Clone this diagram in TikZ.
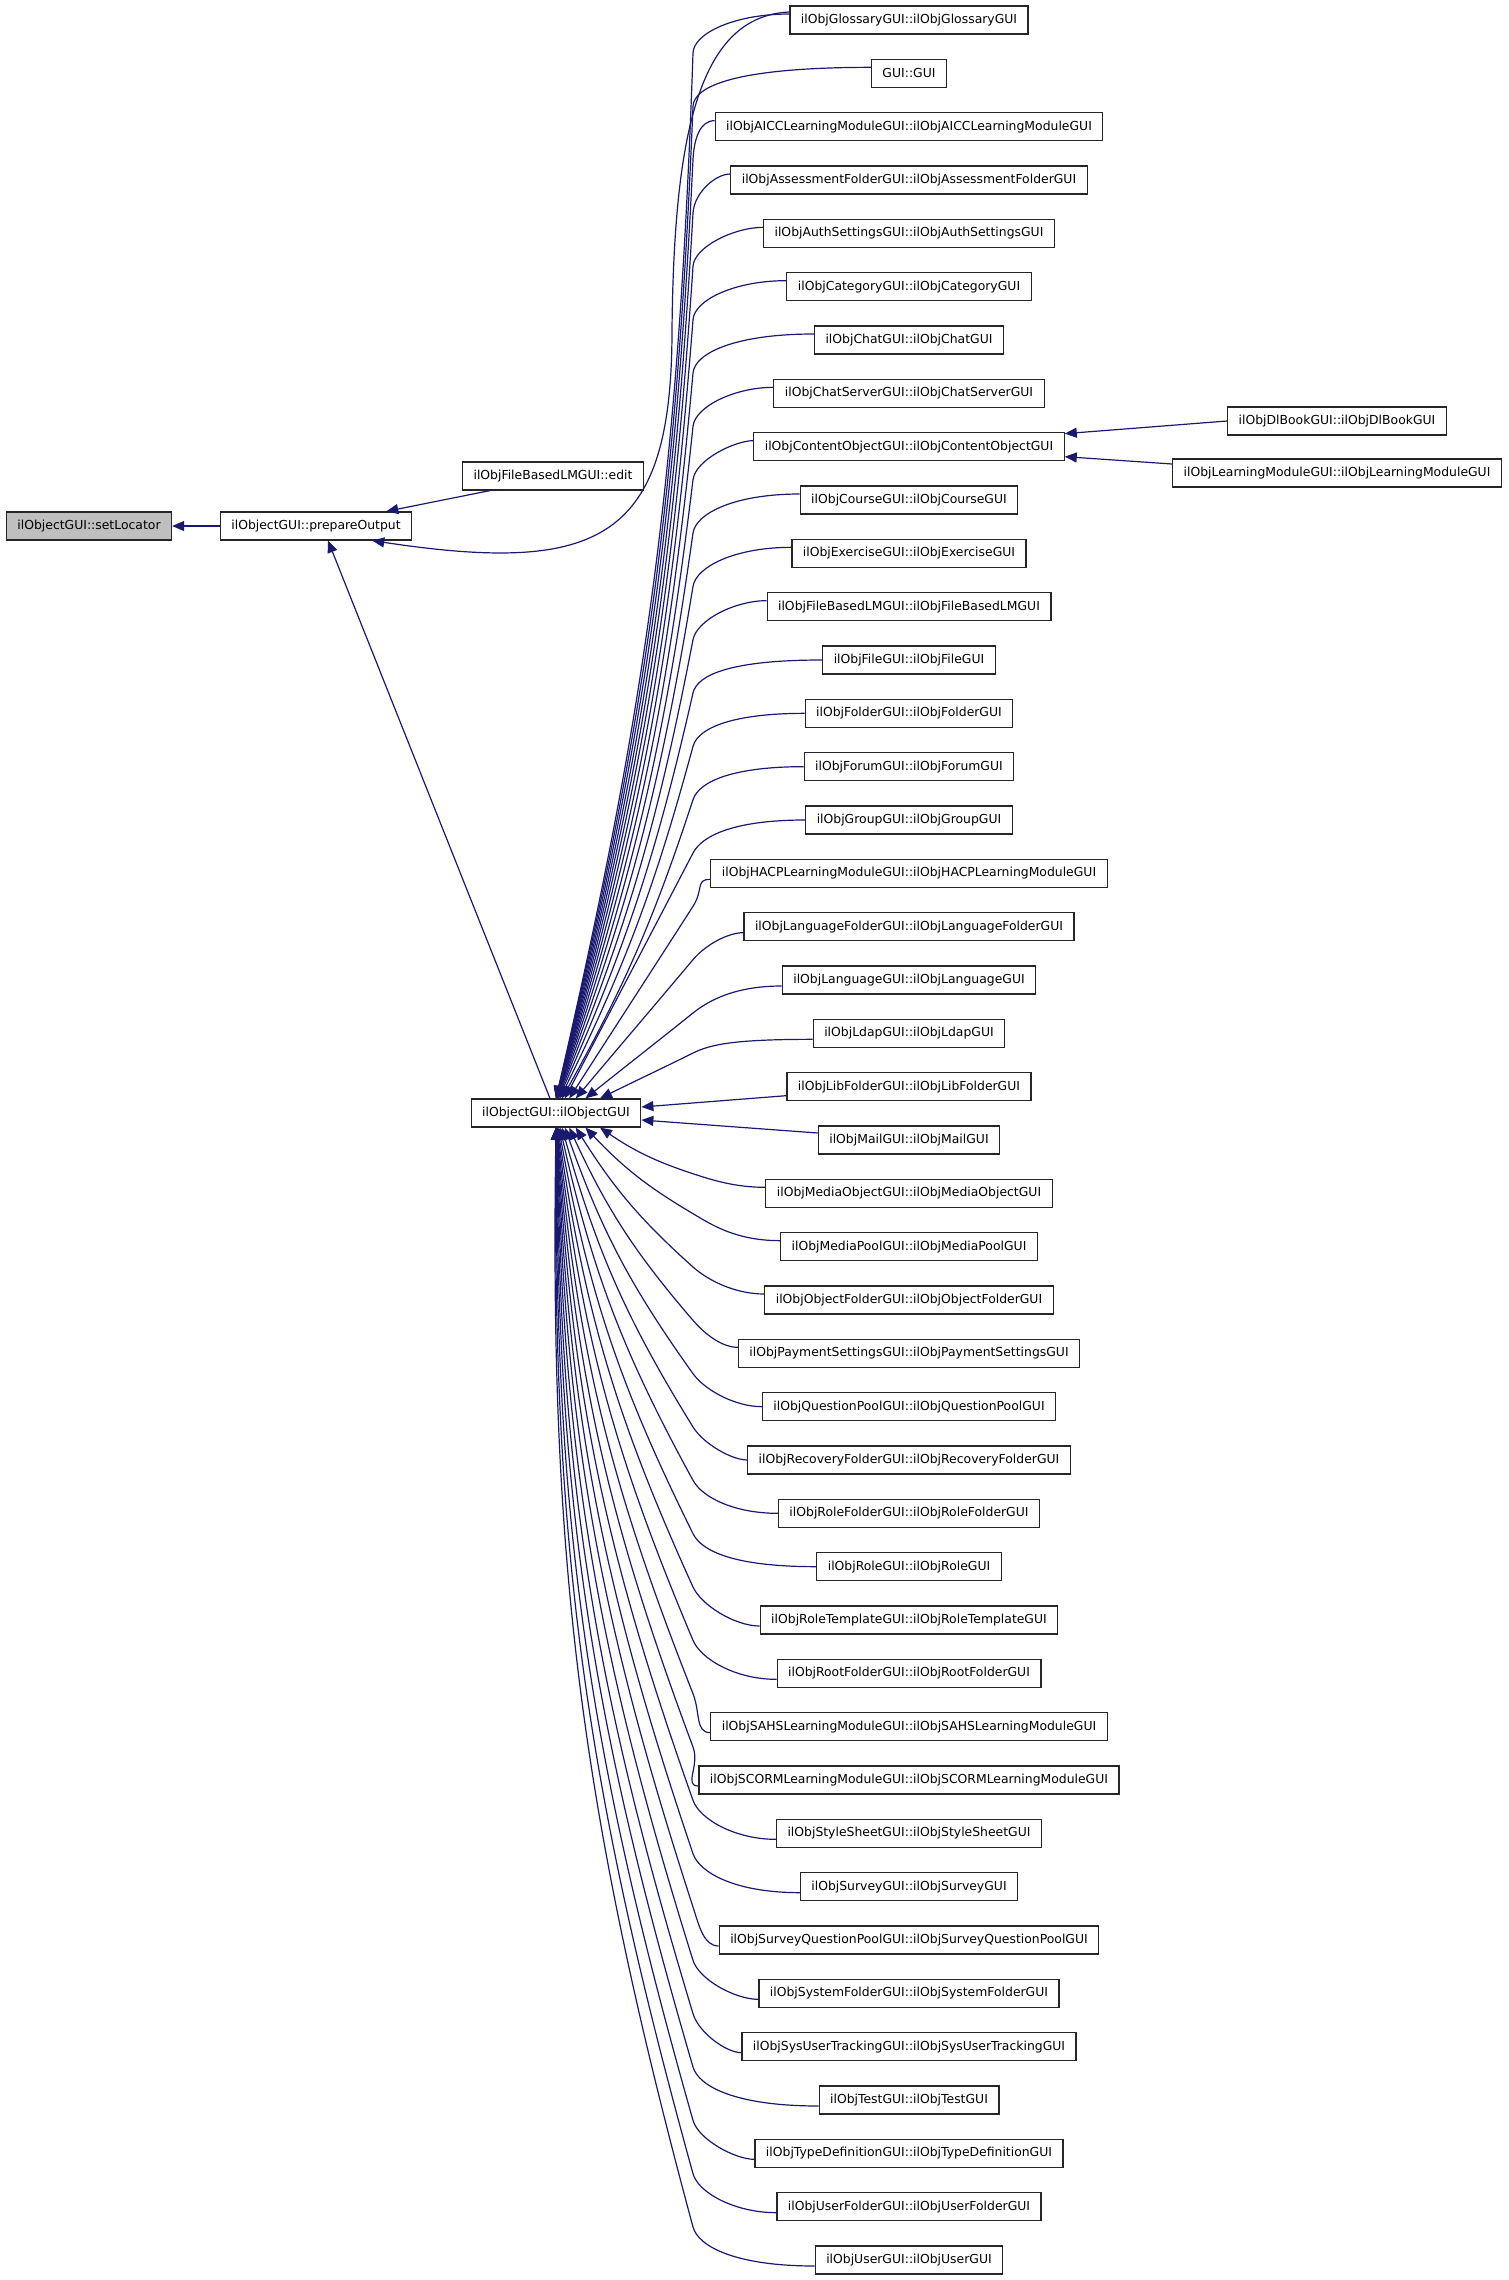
\documentclass[tikz,border=0pt]{standalone}
\usepackage{fontspec}
\setmainfont{DejaVu Sans}
\usetikzlibrary{arrows.meta,calc}
\definecolor{edgeblue}{RGB}{25,25,112}
\begin{document}
\begin{tikzpicture}[x=0.5pt,y=-0.5pt,
  fn/.style={draw=black!85, line width=0.6pt, fill=white, font=\fontsize{6.2pt}{7pt}\selectfont,
    inner xsep=5.5pt, inner ysep=0pt, minimum height=14pt},
  call/.style={draw=edgeblue, line width=0.6pt, -{Triangle[length=6pt,width=5pt]}}]
  \useasboundingbox (0,0) rectangle (1509,2280);
  % left part of the call graph
  \node[fn, fill=black!25] (setlocator) at (89,526) {ilObjectGUI::setLocator};
  \node[fn] (prepare) at (316,526) {ilObjectGUI::prepareOutput};
  \node[fn] (edit) at (553,476) {ilObjFileBasedLMGUI::edit};
  \node[fn] (ilobj) at (556,1113) {ilObjectGUI::ilObjectGUI};
  \node[fn] (dlbook) at (1337,421) {ilObjDlBookGUI::ilObjDlBookGUI};
  \node[fn] (lmodule) at (1337,473) {ilObjLearningModuleGUI::ilObjLearningModuleGUI};
  % right column
  \foreach \nm/\lbl [count=\i from 0] in {glossary/ilObjGlossaryGUI::ilObjGlossaryGUI, gui/GUI::GUI,
      aicc/ilObjAICCLearningModuleGUI::ilObjAICCLearningModuleGUI,
      assessment/ilObjAssessmentFolderGUI::ilObjAssessmentFolderGUI,
      authsettings/ilObjAuthSettingsGUI::ilObjAuthSettingsGUI, category/ilObjCategoryGUI::ilObjCategoryGUI,
      chat/ilObjChatGUI::ilObjChatGUI, chatserver/ilObjChatServerGUI::ilObjChatServerGUI,
      contentobject/ilObjContentObjectGUI::ilObjContentObjectGUI, course/ilObjCourseGUI::ilObjCourseGUI,
      exercise/ilObjExerciseGUI::ilObjExerciseGUI, filebasedlm/ilObjFileBasedLMGUI::ilObjFileBasedLMGUI,
      file/ilObjFileGUI::ilObjFileGUI, folder/ilObjFolderGUI::ilObjFolderGUI,
      forum/ilObjForumGUI::ilObjForumGUI, group/ilObjGroupGUI::ilObjGroupGUI,
      hacp/ilObjHACPLearningModuleGUI::ilObjHACPLearningModuleGUI,
      languagefolder/ilObjLanguageFolderGUI::ilObjLanguageFolderGUI,
      language/ilObjLanguageGUI::ilObjLanguageGUI, ldap/ilObjLdapGUI::ilObjLdapGUI,
      libfolder/ilObjLibFolderGUI::ilObjLibFolderGUI, mail/ilObjMailGUI::ilObjMailGUI,
      mediaobject/ilObjMediaObjectGUI::ilObjMediaObjectGUI, mediapool/ilObjMediaPoolGUI::ilObjMediaPoolGUI,
      objectfolder/ilObjObjectFolderGUI::ilObjObjectFolderGUI,
      paymentsettings/ilObjPaymentSettingsGUI::ilObjPaymentSettingsGUI,
      questionpool/ilObjQuestionPoolGUI::ilObjQuestionPoolGUI,
      recoveryfolder/ilObjRecoveryFolderGUI::ilObjRecoveryFolderGUI,
      rolefolder/ilObjRoleFolderGUI::ilObjRoleFolderGUI, role/ilObjRoleGUI::ilObjRoleGUI,
      roletemplate/ilObjRoleTemplateGUI::ilObjRoleTemplateGUI,
      rootfolder/ilObjRootFolderGUI::ilObjRootFolderGUI,
      sahs/ilObjSAHSLearningModuleGUI::ilObjSAHSLearningModuleGUI,
      scorm/ilObjSCORMLearningModuleGUI::ilObjSCORMLearningModuleGUI,
      stylesheet/ilObjStyleSheetGUI::ilObjStyleSheetGUI, survey/ilObjSurveyGUI::ilObjSurveyGUI,
      surveyqp/ilObjSurveyQuestionPoolGUI::ilObjSurveyQuestionPoolGUI,
      systemfolder/ilObjSystemFolderGUI::ilObjSystemFolderGUI,
      sysusertracking/ilObjSysUserTrackingGUI::ilObjSysUserTrackingGUI,
      test/ilObjTestGUI::ilObjTestGUI, typedef/ilObjTypeDefinitionGUI::ilObjTypeDefinitionGUI,
      userfolder/ilObjUserFolderGUI::ilObjUserFolderGUI, user/ilObjUserGUI::ilObjUserGUI}
    \node[fn] (\nm) at (909,{20+53.333*\i}) {\lbl};

  % edges into ilObjectGUI: a short bend, then a long sweep to its top or bottom side
  \foreach \nm [count=\i from 0] in {glossary,gui,aicc,assessment,authsettings,category,chat,
      chatserver,contentobject,course,exercise,filebasedlm,file,folder,forum,group,hacp,
      languagefolder,language,ldap,libfolder,mail,mediaobject,mediapool,objectfolder,
      paymentsettings,questionpool,recoveryfolder,rolefolder,role,roletemplate,rootfolder,
      sahs,scorm,stylesheet,survey,surveyqp,systemfolder,sysusertracking,test,typedef,
      userfolder,user} {
    \ifnum\i=20 \else\ifnum\i=21 \else
      \pgfmathsetmacro\sy{20+53.333*\i}
      \pgfmathsetmacro\d{\i<20 ? 20-\i : \i-21}
      \pgfmathsetmacro\tx{556+44*exp(-(\d-1)/2.5)}
      \pgfmathsetmacro\ty{\i<20 ? 1099 : 1128}
      \pgfmathsetmacro\dy{min(33,0.3*abs(\ty-\sy))}
      \pgfmathsetmacro\cy{\i<20 ? \sy+\dy : \sy-\dy}
      \pgfmathsetmacro\off{\d<=4 ? 6 : (\d>=9 ? -6 : 0)}
      \pgfmathsetmacro\ay{\i<20 ? \sy+\off : \sy-\off}
      \pgfmathsetmacro\th{atan2(\cy-\ty,\tx-693)}
      \pgfmathsetmacro\bow{\i<20 ? (\d>=6 ? 5.5 : 0) : 8}
      \pgfmathsetmacro\ao{\th+\bow}
      \pgfmathsetmacro\ab{\th+\bow+180}
      \pgfmathsetmacro\ai{\th-\bow+180}
      \ifnum\i<20 \def\side{north}\else\def\side{south}\fi
      \draw[call] let \p1=(\nm.west) in
        (\x1,{-0.5pt*\ay}) .. controls ({min(\x1-7.5pt,367.5pt)},{-0.5pt*\ay})
          and ($(693,\cy)+(\ab:10pt)$) .. (693,\cy)
        to[out=\ao,in=\ai] ($(ilobj.\side)+(\tx-556,0)$);
    \fi\fi
  }
  \draw[call] ($(libfolder.west)+(0,9)$) -- ($(ilobj.east)+(0,-6)$);
  \draw[call] ($(mail.west)+(0,-7)$) -- ($(ilobj.east)+(0,7)$);

  % edges into prepareOutput and setLocator
  \draw[call] ($(glossary.west)+(0,-8)$) .. controls (700,16) and (674,130) .. (672,330)
    .. controls (672,540) and (600,575) .. ($(prepare.south east)+(-40,0)$);
  \draw[call] ($(edit.south west)+(28,0)$) -- ($(prepare.north east)+(-26,0)$);
  \draw[call] ($(ilobj.north)+(-6,0)$) -- ($(prepare.south)+(12,0)$);
  \draw[call] (prepare) -- (setlocator);

  % edges into ilObjContentObjectGUI
  \draw[call] (dlbook.west) -- ($(contentobject.east)+(0,-13)$);
  \draw[call] ($(lmodule.west)+(0,-9)$) -- ($(contentobject.east)+(0,10)$);
\end{tikzpicture}
\end{document}
